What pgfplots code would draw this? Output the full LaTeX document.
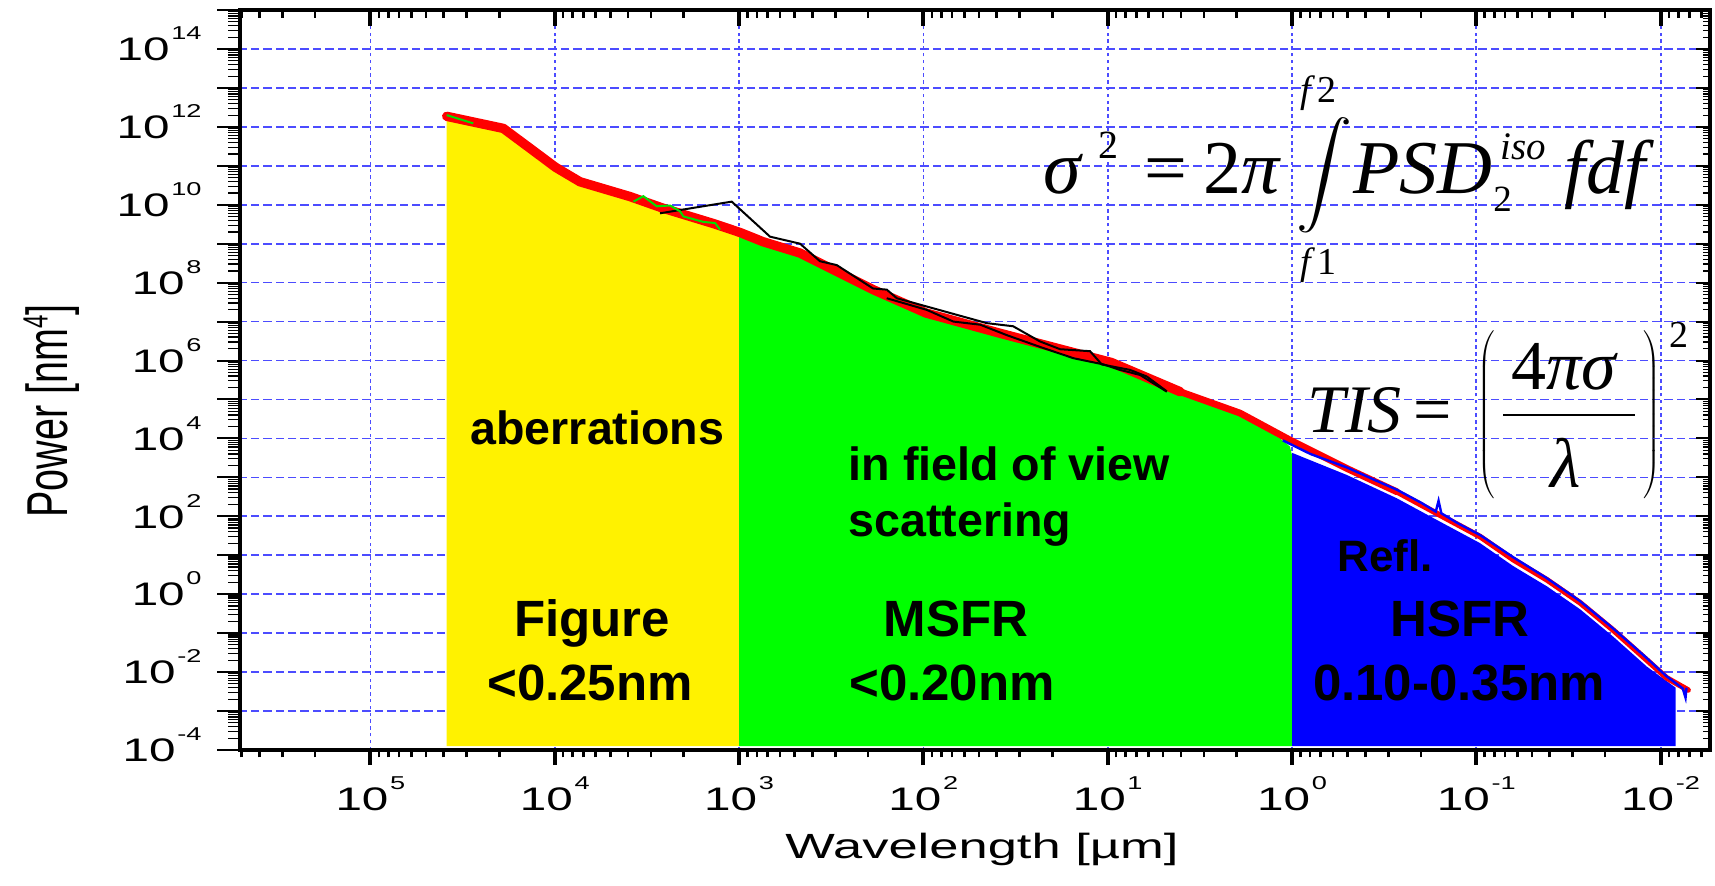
\RequirePackage{fix-cm}
\documentclass[border=0pt]{standalone}
\usepackage{graphicx}
\usepackage{fontspec}
\setmainfont{Liberation Sans}
\newfontfamily\tms{Liberation Serif}
\usepackage{pgfplots}
\pgfplotsset{compat=1.18}
\definecolor{gridblue}{rgb}{0.3,0.3,1}
\definecolor{lgreen}{RGB}{0,255,0}
\definecolor{dgreen}{RGB}{0,225,0}
\newcommand{\tl}[1]{\scalebox{1.46}[1]{\fontsize{16.3}{16.3}\selectfont 10\hspace{0.6pt}\raisebox{10.5pt}{\fontsize{9.3}{9.3}\selectfont #1}}}
\pgfplotsset{
  psdframe/.style={at={(0,0)}, anchor=south west, scale only axis, width=735pt, height=370pt,
    x dir=reverse, xmin=5.4e-3, xmax=5.1e5, ymin=1e-4, ymax=1e15},
  psdxticks/.style={xtick={1e-2,1e-1,1,1e1,1e2,1e3,1e4,1e5},
    minor xtick={6e-3,7e-3,8e-3,9e-3,2e-2,3e-2,4e-2,5e-2,6e-2,7e-2,8e-2,9e-2,2e-1,3e-1,4e-1,5e-1,6e-1,7e-1,8e-1,9e-1,2,3,4,5,6,7,8,9,20,30,40,50,60,70,80,90,200,300,400,500,600,700,800,900,2e3,3e3,4e3,5e3,6e3,7e3,8e3,9e3,2e4,3e4,4e4,5e4,6e4,7e4,8e4,9e4,2e5,3e5,4e5,5e5}},
  psdyticks/.style={ytick={1e-4,1e-3,1e-2,1e-1,1,1e1,1e2,1e3,1e4,1e5,1e6,1e7,1e8,1e9,1e10,1e11,1e12,1e13,1e14,1e15},
    minor ytick={2e-4,3e-4,4e-4,5e-4,6e-4,7e-4,8e-4,9e-4,
    2e-3,3e-3,4e-3,5e-3,6e-3,7e-3,8e-3,9e-3,
    2e-2,3e-2,4e-2,5e-2,6e-2,7e-2,8e-2,9e-2,
    2e-1,3e-1,4e-1,5e-1,6e-1,7e-1,8e-1,9e-1,
    2e0,3e0,4e0,5e0,6e0,7e0,8e0,9e0,
    2e1,3e1,4e1,5e1,6e1,7e1,8e1,9e1,
    2e2,3e2,4e2,5e2,6e2,7e2,8e2,9e2,
    2e3,3e3,4e3,5e3,6e3,7e3,8e3,9e3,
    2e4,3e4,4e4,5e4,6e4,7e4,8e4,9e4,
    2e5,3e5,4e5,5e5,6e5,7e5,8e5,9e5,
    2e6,3e6,4e6,5e6,6e6,7e6,8e6,9e6,
    2e7,3e7,4e7,5e7,6e7,7e7,8e7,9e7,
    2e8,3e8,4e8,5e8,6e8,7e8,8e8,9e8,
    2e9,3e9,4e9,5e9,6e9,7e9,8e9,9e9,
    2e10,3e10,4e10,5e10,6e10,7e10,8e10,9e10,
    2e11,3e11,4e11,5e11,6e11,7e11,8e11,9e11,
    2e12,3e12,4e12,5e12,6e12,7e12,8e12,9e12,
    2e13,3e13,4e13,5e13,6e13,7e13,8e13,9e13,
    2e14,3e14,4e14,5e14,6e14,7e14,8e14,9e14}},
}
\begin{document}
\begin{tikzpicture}
\begin{loglogaxis}[psdframe,
  xtick={1e-2,1e-1,1,1e1,1e2,1e3,1e4,1e5},
  xticklabels={\tl{-2},\tl{-1},\tl{0},\tl{1},\tl{2},\tl{3},\tl{4},\tl{5}},
  ytick={1e-4,1e-3,1e-2,1e-1,1,1e1,1e2,1e3,1e4,1e5,1e6,1e7,1e8,1e9,1e10,1e11,1e12,1e13,1e14,1e15},
  yticklabels={\tl{-4},,\tl{-2},,\tl{0},,\tl{2},,\tl{4},,\tl{6},,\tl{8},,\tl{10},,\tl{12},,\tl{14},},
  minor xtick={}, minor ytick={},
  xtick style={draw=none}, ytick style={draw=none},
  xmajorgrids, ymajorgrids,
  grid style={gridblue, line width=0.85pt},
  every axis x grid/.append style={gridblue, line width=0.85pt, dash pattern=on 1.7pt off 1.7pt},
  every axis y grid/.append style={gridblue, line width=0.85pt, dash pattern=on 4.2pt off 2pt},
  axis line style={line width=1.6pt},
  xticklabel style={anchor=base, inner sep=0pt, yshift=-30pt},
  yticklabel style={anchor=base east, inner sep=0pt, xshift=-19pt, yshift=-5.85pt},
]
% fills
\addplot[fill=yellow, draw=none] coordinates {(3.855e4,1.25e-4) (3.855e4,1.862e12) (1.901e4,9.12e11) (1.361e4,2.818e11) (9.886e3,9.12e10) (7.295e3,3.89e10) (3.908e3,1.622e10) (2.582e3,8.13e9) (1.384e3,3.311e9) (1000,1.95e9) (1000,1.25e-4)};
\addplot[fill=lgreen, draw=none] coordinates {(1000,1.25e-4) (1000,1.95e9) (741,1.122e9) (467,5.75e8) (187.5,6.61e7) (96.8,1.66e7) (38.4,5.01e6) (9.55,8.91e5) (4.046,1.585e5) (1.914,4.47e4) (1.16,1.0e4) (1.026,6.2e3) (1,3.7e3) (1,1.25e-4)};
\addplot[fill=blue, draw=none] coordinates {(1,1.25e-4) (1,4.27e3) (0.5047,1.155e3) (0.2698,290) (0.1574,72.9) (0.0955,20.5) (0.0631,5.28) (0.0414,1.594) (0.02735,0.41) (0.01811,0.0817) (0.01189,0.01389) (0.0083,4.0e-3) (0.0083,1.25e-4)};
% red measured curve
\addplot[red, line width=4.7pt, line cap=round, line join=round] coordinates {(3.855e4,1.862e12) (1.901e4,9.12e11) (1.361e4,2.818e11) (9.886e3,9.12e10) (7.295e3,3.89e10) (3.908e3,1.622e10) (2.582e3,8.13e9) (1.384e3,3.311e9) (991,1.95e9) (741,1.122e9) (467,5.75e8) (187.5,6.61e7) (96.8,1.66e7) (38.4,5.01e6) (9.55,8.91e5) (4.046,1.585e5)};
\addplot[red, line width=3.4pt, line cap=round, line join=round] coordinates {(4.046,1.585e5) (1.914,4.47e4) (1.026,9.12e3) (0.5047,1.698e3) (0.2698,426.6)};
\addplot[red, line width=2.8pt, line cap=round, line join=round] coordinates {(0.2698,426.6) (0.1574,107.2) (0.0955,30.2) (0.0631,7.76) (0.0414,2.344) (0.02735,0.6026) (0.01811,0.1202) (0.01189,0.02042) (0.009268,0.007079) (0.0071,0.003467)};
% black curves
\addplot[black, line width=1pt] coordinates {(2685,6.03e9) (1096,1.202e10) (679,1.514e9) (467,1.0e9) (364,3.548e8) (295,2.818e8) (187.5,7.08e7) (158,6.61e7) (139.3,3.98e7) (45.3,9.12e6) (32.6,7.59e6) (23.3,3.09e6) (18.1,1.95e6) (12.47,1.738e6) (10.77,7.94e5) (7.57,5.75e5) (6.14,3.89e5) (4.78,1.622e5)};
\addplot[black, line width=1pt] coordinates {(158.1,3.98e7) (95.9,2.0e7) (68.7,1.0e7) (49.2,8.32e6) (35.2,4.47e6) (23.3,2.24e6) (15.35,1.148e6) (10.54,7.94e5) (8.57,5.75e5) (6.68,4.27e5) (4.78,1.585e5)};
% blue curve
\addplot[blue, line width=1.2pt] coordinates {(1.122,8.91e3) (0.794,3.98e3) (0.501,1.778e3) (0.3548,851) (0.2692,479) (0.1995,224) (0.166,132) (0.1603,251) (0.1549,120) (0.1259,66.1) (0.0955,33.1) (0.0631,8.91) (0.0417,2.63) (0.0275,0.676) (0.0182,0.135) (0.01202,0.024) (0.00933,0.00794) (0.00759,0.0038) (0.00733,0.00219) (0.00724,0.00398)};
% green curve
\addplot[dgreen, line width=1pt] coordinates {(3.855e4,2.0e12) (2.767e4,1.23e12)};
\addplot[dgreen, line width=1pt] coordinates {(3741,1.202e10) (3304,1.66e10) (2799,9.12e9) (2366,9.55e9) (2089,6.76e9) (2004,5.01e9) (1563,3.63e9) (1349,3.39e9) (1268,2.29e9)};
\end{loglogaxis}
% tick overlays
\begin{loglogaxis}[psdframe, psdxticks, ytick=\empty, xticklabels={}, axis line style={draw=none},
  tick align=outside, xtick pos=left, major tick length=7.5pt, minor tick length=3.7pt,
  major tick style={line width=2pt, black}, minor tick style={line width=1.3pt, black}]
\end{loglogaxis}
\begin{loglogaxis}[psdframe, psdyticks, xtick=\empty, yticklabels={}, axis line style={draw=none},
  tick align=outside, ytick pos=left, major tick length=11.5pt, minor tick length=6pt,
  major tick style={line width=1pt, black}, minor tick style={line width=0.6pt, black}]
\end{loglogaxis}
\begin{loglogaxis}[psdframe, psdxticks, ytick=\empty, xticklabels={}, axis line style={draw=none},
  tick align=inside, xtick pos=right, major tick length=8pt, minor tick length=4pt,
  major tick style={line width=2pt, black}, minor tick style={line width=1.3pt, black}]
\end{loglogaxis}
\begin{loglogaxis}[psdframe, psdyticks, xtick=\empty, yticklabels={}, axis line style={draw=none},
  tick align=inside, ytick pos=right, major tick length=7pt, minor tick length=3.5pt,
  major tick style={line width=1pt, black}, minor tick style={line width=0.6pt, black}]
\end{loglogaxis}
% axis labels
\node[rotate=90, anchor=base] at (-86pt,169.5pt) {\scalebox{1}[1.46]{\fontsize{19.75}{19.75}\selectfont Power [nm\raisebox{7pt}{\fontsize{12}{12}\selectfont 4}]}};
\node[anchor=base] at (371pt,-54pt) {\scalebox{1.5}[1]{\fontsize{17.5}{17.5}\selectfont Wavelength [µm]}};
% region labels
\node[anchor=base, font=\fontsize{23.3}{23.3}\selectfont\bfseries] at (178.7pt,153pt) {aberrations};
\node[anchor=base west, font=\fontsize{23.3}{23.3}\selectfont\bfseries] at (300.8pt,134.6pt) {in field of view};
\node[anchor=base west, font=\fontsize{23.3}{23.3}\selectfont\bfseries] at (300.8pt,106.6pt) {scattering};
\node[anchor=base, font=\fontsize{25.5}{25.5}\selectfont\bfseries] at (176pt,57pt) {Figure};
\node[anchor=base, font=\fontsize{25.5}{25.5}\selectfont\bfseries] at (175pt,25pt) {<0.25nm};
\node[anchor=base, font=\fontsize{25.5}{25.5}\selectfont\bfseries] at (358pt,57pt) {MSFR};
\node[anchor=base, font=\fontsize{25.5}{25.5}\selectfont\bfseries] at (356pt,25pt) {<0.20nm};
\node[anchor=base, font=\fontsize{22}{22}\selectfont\bfseries] at (572.5pt,89.5pt) {Refl.};
\node[anchor=base, font=\fontsize{25.5}{25.5}\selectfont\bfseries] at (610pt,57pt) {HSFR};
\node[anchor=base, font=\fontsize{25.5}{25.5}\selectfont\bfseries] at (609.5pt,25pt) {0.10-0.35nm};
% formula 1
\node[anchor=base west, inner sep=0pt] at (401.5pt,278pt) {\tms\fontsize{38}{38}\selectfont\itshape σ\hspace{9pt}\raisebox{17.5pt}{\upshape\fontsize{20}{20}\selectfont 2}\hspace{13pt}\upshape=\hspace{8pt}2\itshape π};
\node[inner sep=0pt] at (542pt,287.5pt) {\scalebox{2.8}[2.6]{$\displaystyle\int$}};
\node[anchor=base west, inner sep=0pt] at (530pt,323.5pt) {\tms\fontsize{19}{19}\selectfont\itshape f\hspace{3.5pt}\upshape 2};
\node[anchor=base west, inner sep=0pt] at (530pt,237.5pt) {\tms\fontsize{19}{19}\selectfont\itshape f\hspace{3.5pt}\upshape 1};
\node[anchor=base west, inner sep=0pt] at (556.5pt,278pt) {\tms\fontsize{38}{38}\selectfont\itshape PSD};
\node[anchor=base west, inner sep=0pt] at (626.5pt,269pt) {\tms\fontsize{18.5}{18.5}\selectfont 2};
\node[anchor=base west, inner sep=0pt] at (630pt,295pt) {\tms\fontsize{19.5}{19.5}\selectfont\itshape iso};
\node[anchor=base west, inner sep=0pt] at (662pt,278pt) {\tms\fontsize{38}{38}\selectfont\itshape f\hspace{0.5pt}df};
% formula 2
\node[anchor=base west, inner sep=0pt] at (533.5pt,159pt) {\tms\fontsize{34}{34}\selectfont\itshape TIS\hspace{6pt}\upshape=};
\node[inner sep=0pt] at (623.5pt,167.5pt) {\delimitershortfall=-1pt\delimiterfactor=1001$\left(\vrule height 37pt depth 37pt width 0pt\right.$};
\node[inner sep=0pt] at (705.5pt,167.5pt) {\delimitershortfall=-1pt\delimiterfactor=1001$\left.\vrule height 37pt depth 37pt width 0pt\right)$};
\node[anchor=base west, inner sep=0pt] at (635.5pt,180pt) {\tms\fontsize{35}{35}\selectfont 4\itshape πσ};
\draw[line width=1.4pt] (631.5pt,167.5pt) -- (697.5pt,167.5pt);
\node[anchor=base west, inner sep=0pt] at (655pt,131.5pt) {\tms\fontsize{35}{35}\selectfont\itshape λ};
\node[anchor=base west, inner sep=0pt] at (714.5pt,201pt) {\tms\fontsize{19}{19}\selectfont 2};
\pgfresetboundingbox
\path (-120pt,-67.5pt) rectangle (737.5pt,375pt);
\end{tikzpicture}
\end{document}
